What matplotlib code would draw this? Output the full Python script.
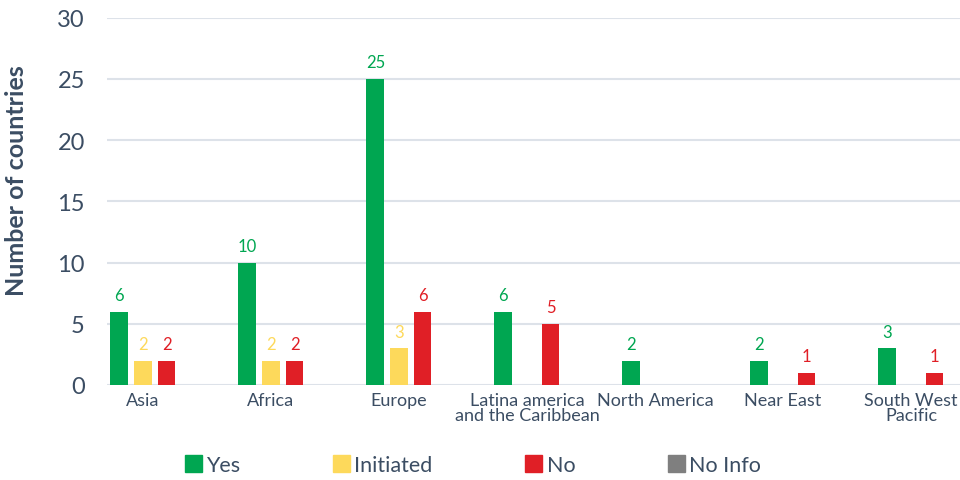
import matplotlib
matplotlib.use("Agg")
import matplotlib.pyplot as plt
import numpy as np
from matplotlib import font_manager
from matplotlib.patches import Patch

# data
regions = ["Asia", "Africa", "Europe", "Latina america\nand the Caribbean",
           "North America", "Near East", "South West\nPacific"]
yes = [6, 10, 25, 6, 2, 2, 3]
initiated = [2, 2, 3, 0, 0, 0, 0]
no = [2, 2, 6, 5, 0, 1, 1]
no_info = [0, 0, 0, 0, 0, 0, 0]
series_names = ["Yes", "Initiated", "No", "No Info"]
y_ticks = [0, 5, 10, 15, 20, 25, 30]

GREEN = "#00A651"
YELLOW = "#FDD95B"
RED = "#E01F26"
GREY = "#7F7F7F"
TEXT = "#3B4D63"
GRID = "#DDE2E9"

installed = {f.name for f in font_manager.fontManager.ttflist}
font = next(f for f in ["Liberation Sans Narrow", "Lato", "DejaVu Sans"] if f in installed)
plt.rcParams["font.family"] = font

fig = plt.figure(figsize=(9.6, 4.81), dpi=100)
ax = fig.add_axes([107 / 960, 1 - 386 / 481, 853 / 960, 367.5 / 481])

x = np.arange(len(regions))
step = 0.184
width = 0.14

for vals, color, off in [(yes, GREEN, -step), (initiated, YELLOW, 0.0), (no, RED, step)]:
    bars = ax.bar(x + off, vals, width=width, color=color, zorder=3)
    for rect, v in zip(bars, vals):
        if v > 0:
            ax.annotate(str(v), (rect.get_x() + rect.get_width() / 2, v),
                        xytext=(0, 6), textcoords="offset points",
                        ha="center", va="bottom", color=color, fontsize=12)

ax.set_xlim(-0.281, 6.383)
ax.set_ylim(0, 30)
ax.set_yticks(y_ticks)
ax.set_xticks(x)
ax.set_xticklabels(regions, linespacing=0.95)
ax.tick_params(axis="y", length=0, pad=16, labelsize=17, labelcolor=TEXT)
ax.tick_params(axis="x", length=0, pad=5, labelsize=13, labelcolor=TEXT)
ax.grid(axis="y", color=GRID, linewidth=1.5, zorder=0)
for s in ax.spines.values():
    s.set_visible(False)

ax.set_ylabel("Number of countries", fontsize=18, fontweight="bold", color=TEXT)
ax.yaxis.set_label_coords(-0.093, 0.56)

handles = [Patch(color=c) for c in [GREEN, YELLOW, RED, GREY]]
fig.legend(handles, series_names, loc="center", bbox_to_anchor=(473 / 960, 1 - 466 / 481),
           ncol=4, frameon=False, fontsize=15.5, labelcolor=TEXT,
           handlelength=0.8, handleheight=0.8, handletextpad=0.2, columnspacing=4.3)

fig.savefig("out.png", dpi=100)
